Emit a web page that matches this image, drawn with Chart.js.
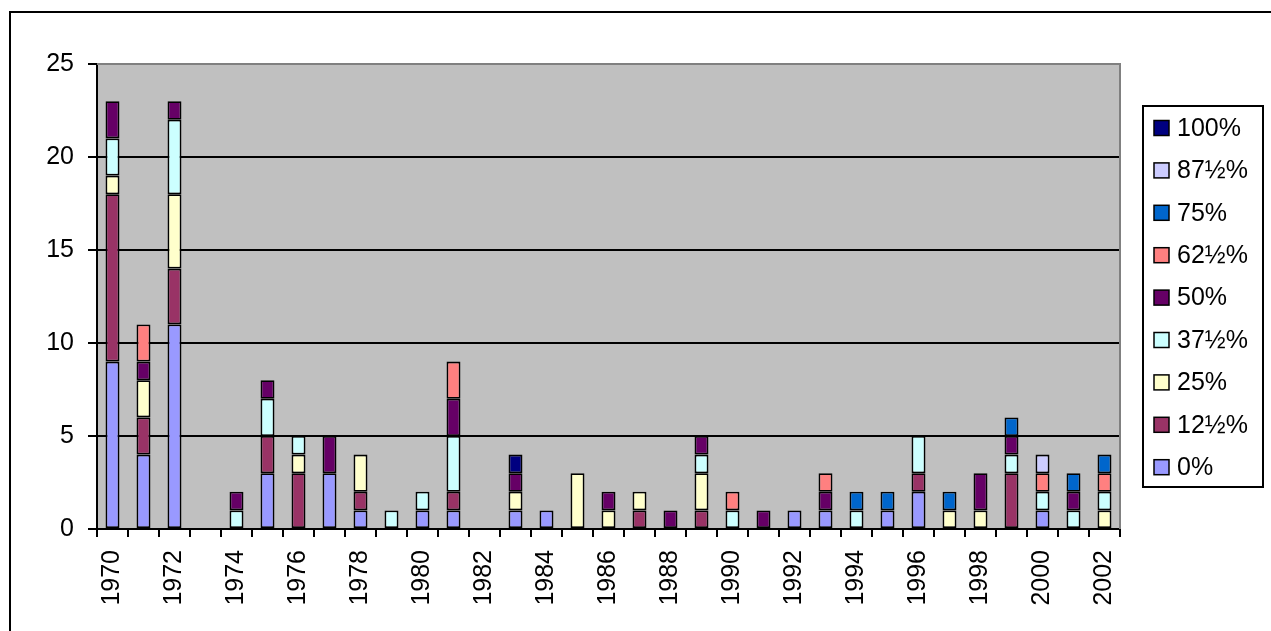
<!DOCTYPE html>
<html><head><meta charset="utf-8">
<script src="https://cdn.jsdelivr.net/npm/chart.js@4.4.1/dist/chart.umd.min.js"></script>
<style>html,body{margin:0;padding:0;background:#fff;overflow:hidden}canvas{display:block}</style>
</head><body>
<canvas id="c" width="1271" height="631"></canvas>
<script>
// ---- data ----
const years = ['1970','1971','1972','1973','1974','1975','1976','1977','1978','1979','1980','1981','1982','1983','1984','1985','1986','1987','1988','1989','1990','1991','1992','1993','1994','1995','1996','1997','1998','1999','2000','2001','2002'];
const seriesLabels = ['0%','12½%','25%','37½%','50%','62½%','75%','87½%','100%'];
const seriesColors = ['#9999FF','#993366','#FFFFCC','#CCFFFF','#660066','#FF8080','#0066CC','#CCCCFF','#000080'];
const yTickValues = [0,5,10,15,20,25];
const _ = null;
//              70 71 72 73 74 75 76 77 78 79 80 81 82 83 84 85 86 87 88 89 90 91 92 93 94 95 96 97 98 99 00 01 02
const pct0   = [ 9, 4,11, _, _, 3, _, 3, 1, _, 1, 1, _, 1, 1, _, _, _, _, _, _, _, 1, 1, _, 1, 2, _, _, _, 1, _, _];
const pct12  = [ 9, 2, 3, _, _, 2, 3, _, 1, _, _, 1, _, _, _, _, _, 1, _, 1, _, _, _, _, _, _, 1, _, _, 3, _, _, _];
const pct25  = [ 1, 2, 4, _, _, _, 1, _, 2, _, _, _, _, 1, _, 3, 1, 1, _, 2, _, _, _, _, _, _, _, 1, 1, _, _, _, 1];
const pct37  = [ 2, _, 4, _, 1, 2, 1, _, _, 1, 1, 3, _, _, _, _, _, _, _, 1, 1, _, _, _, 1, _, 2, _, _, 1, 1, 1, 1];
const pct50  = [ 2, 1, 1, _, 1, 1, _, 2, _, _, _, 2, _, 1, _, _, 1, _, 1, 1, _, 1, _, 1, _, _, _, _, 2, 1, _, 1, _];
const pct62  = [ _, 2, _, _, _, _, _, _, _, _, _, 2, _, _, _, _, _, _, _, _, 1, _, _, 1, _, _, _, _, _, _, 1, _, 1];
const pct75  = [ _, _, _, _, _, _, _, _, _, _, _, _, _, _, _, _, _, _, _, _, _, _, _, _, 1, 1, _, 1, _, 1, _, 1, 1];
const pct87  = [ _, _, _, _, _, _, _, _, _, _, _, _, _, _, _, _, _, _, _, _, _, _, _, _, _, _, _, _, _, _, 1, _, _];
const pct100 = [ _, _, _, _, _, _, _, _, _, _, _, _, _, 1, _, _, _, _, _, _, _, _, _, _, _, _, _, _, _, _, _, _, _];
const seriesValues = [pct0, pct12, pct25, pct37, pct50, pct62, pct75, pct87, pct100];

const FONT = '"Liberation Sans", Arial, sans-serif';
const FSIZE = 25;

const frame = {
  id: 'frame',
  beforeDraw(chart) {
    const {ctx, chartArea: a} = chart;
    ctx.save();
    ctx.fillStyle = '#fff';
    ctx.fillRect(0, 0, chart.width, chart.height);
    ctx.lineWidth = 2;
    ctx.strokeStyle = '#000';
    ctx.strokeRect(10, 12, chart.width + 20, chart.height + 20);
    ctx.fillStyle = '#C0C0C0';
    ctx.fillRect(a.left, a.top, a.right - a.left, a.bottom - a.top);
    ctx.restore();
  },
  afterDraw(chart) {
    const {ctx, chartArea: a} = chart;
    ctx.save();
    ctx.strokeStyle = '#808080';
    ctx.lineWidth = 2;
    ctx.beginPath();
    ctx.moveTo(a.left, a.top); ctx.lineTo(a.right, a.top); ctx.lineTo(a.right, a.bottom);
    ctx.stroke();
    // legend
    const ds = chart.data.datasets;
    ctx.strokeStyle = '#000';
    ctx.strokeRect(1143, 106, 120, 381);
    ctx.font = FSIZE + 'px ' + FONT;
    ctx.textBaseline = 'middle';
    ctx.textAlign = 'left';
    for (let k = 0; k < ds.length; k++) {
      const d = ds[ds.length - 1 - k];
      const y = 128 + k * 42.4;
      ctx.fillStyle = d.backgroundColor;
      ctx.fillRect(1154, y - 7.5, 15, 15);
      ctx.lineWidth = 1.5;
      ctx.strokeRect(1154, y - 7.5, 15, 15);
      ctx.fillStyle = '#000';
      ctx.fillText(d.label, 1177, y + 1);
    }
    ctx.restore();
  }
};

new Chart(document.getElementById('c'), {
  type: 'bar',
  data: {
    labels: years,
    datasets: seriesLabels.map((lab, i) => ({
      label: lab,
      data: seriesValues[i],
      backgroundColor: seriesColors[i],
      borderColor: '#000',
      borderWidth: 1.8,
      borderSkipped: false,
      barPercentage: 0.9,
      categoryPercentage: 0.5
    }))
  },
  options: {
    responsive: false,
    animation: false,
    devicePixelRatio: 1,
    layout: { padding: { left: 0, top: 64, right: 151, bottom: 0 } },
    plugins: { legend: { display: false }, tooltip: { enabled: false } },
    scales: {
      x: {
        stacked: true,
        afterFit(s) { s.height = 102; },
        border: { color: '#000', width: 2 },
        grid: { drawOnChartArea: false, drawTicks: true, tickLength: 8, color: '#000', lineWidth: 2, offset: true },
        ticks: {
          autoSkip: false, maxRotation: 90, minRotation: 90, padding: 13,
          color: '#000', font: { family: FONT, size: FSIZE },
          callback(v, i) { return i % 2 === 0 ? years[i] : ''; }
        }
      },
      y: {
        stacked: true, min: 0, max: 25,
        afterFit(s) { s.width = 97; },
        afterBuildTicks(s) { s.ticks = yTickValues.map(v => ({ value: v })); },
        border: { color: '#000', width: 2 },
        grid: {
          color: c => (c.tick && c.tick.value === 25 ? '#808080' : '#000'),
          tickColor: '#000', lineWidth: 2, tickLength: 9
        },
        ticks: { padding: 14, color: '#000', font: { family: FONT, size: FSIZE } }
      }
    }
  },
  plugins: [frame]
});
</script>
</body></html>
